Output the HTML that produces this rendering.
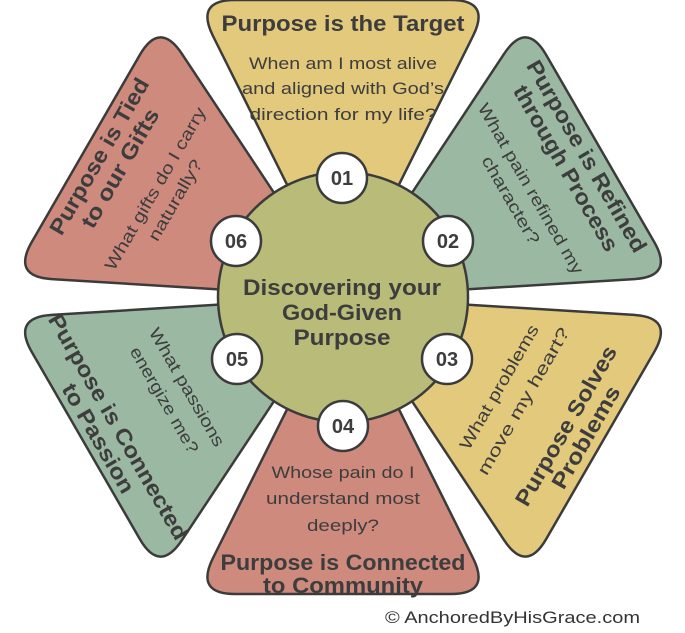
<!DOCTYPE html>
<html><head><meta charset="utf-8"><style>
html,body{margin:0;padding:0;background:#fff;}
svg{display:block;}
text{font-family:"Liberation Sans",sans-serif;fill:#3d3d3d;}
.t{font-weight:bold;font-size:22px;}
.q{font-size:17px;}
.n{font-weight:bold;font-size:20px;}
</style></head><body>
<svg width="685" height="633" viewBox="0 0 685 633" xmlns="http://www.w3.org/2000/svg">
<defs>
<path id="tri" d="M0,0 L-130,-261 Q-148,-297 -108,-297 L108,-297 Q148,-297 130,-261 Z" stroke="#3b3b3b" stroke-width="2.5" stroke-linejoin="round"/>
</defs>
<g transform="translate(343,297)">
<use href="#tri" fill="#e2c97b"/>
<use href="#tri" fill="#9bb9a2" transform="rotate(60)"/>
<use href="#tri" fill="#e2c97b" transform="rotate(120)"/>
<use href="#tri" fill="#cf8a7e" transform="rotate(180)"/>
<use href="#tri" fill="#9bb9a2" transform="rotate(240)"/>
<use href="#tri" fill="#cf8a7e" transform="rotate(300)"/>
<circle cx="0" cy="0" r="125" fill="#b8bc78" stroke="#3b3b3b" stroke-width="2.5"/>
</g>
<g stroke="#3b3b3b" stroke-width="2.5" fill="#fff">
<circle cx="342" cy="178" r="25"/>
<circle cx="448" cy="241" r="25"/>
<circle cx="447" cy="359" r="25"/>
<circle cx="343" cy="426" r="25"/>
<circle cx="237" cy="359" r="25"/>
<circle cx="236" cy="241" r="25"/>
</g>
<g text-anchor="middle">
<text class="n" x="342" y="185">01</text>
<text class="n" x="448" y="248">02</text>
<text class="n" x="447" y="366">03</text>
<text class="n" x="343" y="433">04</text>
<text class="n" x="237" y="366">05</text>
<text class="n" x="236" y="248">06</text>
<text class="t" x="342" y="295" textLength="198" lengthAdjust="spacingAndGlyphs">Discovering your</text>
<text class="t" x="342" y="320" textLength="120" lengthAdjust="spacingAndGlyphs">God-Given</text>
<text class="t" x="342" y="345" textLength="97" lengthAdjust="spacingAndGlyphs">Purpose</text>
<g transform="translate(343,297)">
<text class="t" x="0" y="-266" textLength="243" lengthAdjust="spacingAndGlyphs">Purpose is the Target</text>
<text class="q" x="0" y="-228" textLength="188" lengthAdjust="spacingAndGlyphs">When am I most alive</text>
<text class="q" x="0" y="-203" textLength="202" lengthAdjust="spacingAndGlyphs">and aligned with God’s</text>
<text class="q" x="0" y="-177" textLength="187" lengthAdjust="spacingAndGlyphs">direction for my life?</text>
<g transform="rotate(60)">
<text class="t" x="0" y="-274" textLength="218" lengthAdjust="spacingAndGlyphs">Purpose is Refined</text>
<text class="t" x="0" y="-250" textLength="188" lengthAdjust="spacingAndGlyphs">through Process</text>
<text class="q" x="0" y="-211" textLength="194" lengthAdjust="spacingAndGlyphs">What pain refined my</text>
<text class="q" x="0" y="-188" textLength="99" lengthAdjust="spacingAndGlyphs">character?</text>
</g>
<g transform="rotate(-60)">
<text class="t" x="0" y="-274" textLength="177" lengthAdjust="spacingAndGlyphs">Purpose is Tied</text>
<text class="t" x="0" y="-250" textLength="134" lengthAdjust="spacingAndGlyphs">to our Gifts</text>
<text class="q" x="0" y="-211" textLength="185" lengthAdjust="spacingAndGlyphs">What gifts do I carry</text>
<text class="q" x="0" y="-188" textLength="91" lengthAdjust="spacingAndGlyphs">naturally?</text>
</g>
<text class="q" x="0" y="181" textLength="143" lengthAdjust="spacingAndGlyphs">Whose pain do I</text>
<text class="q" x="0" y="207" textLength="154" lengthAdjust="spacingAndGlyphs">understand most</text>
<text class="q" x="0" y="234" textLength="72" lengthAdjust="spacingAndGlyphs">deeply?</text>
<text class="t" x="0" y="273" textLength="245" lengthAdjust="spacingAndGlyphs">Purpose is Connected</text>
<text class="t" x="0" y="296" textLength="160" lengthAdjust="spacingAndGlyphs">to Community</text>
<g transform="rotate(-60)">
<text class="q" x="0" y="186" textLength="141" lengthAdjust="spacingAndGlyphs">What problems</text>
<text class="q" x="0" y="214" textLength="167" lengthAdjust="spacingAndGlyphs">move my heart?</text>
<text class="t" x="0" y="265" textLength="181" lengthAdjust="spacingAndGlyphs">Purpose Solves</text>
<text class="t" x="0" y="288" textLength="115" lengthAdjust="spacingAndGlyphs">Problems</text>
</g>
<g transform="rotate(60)">
<text class="q" x="0" y="186" textLength="134" lengthAdjust="spacingAndGlyphs">What passions</text>
<text class="q" x="0" y="212" textLength="120" lengthAdjust="spacingAndGlyphs">energize me?</text>
<text class="t" x="0" y="267" textLength="257" lengthAdjust="spacingAndGlyphs">Purpose is Connected</text>
<text class="t" x="0" y="290" textLength="123" lengthAdjust="spacingAndGlyphs">to Passion</text>
</g>
</g>
</g>
<text x="640" y="623" text-anchor="end" style="font-size:17px;fill:#333" textLength="255" lengthAdjust="spacingAndGlyphs">© AnchoredByHisGrace.com</text>
</svg>
</body></html>
